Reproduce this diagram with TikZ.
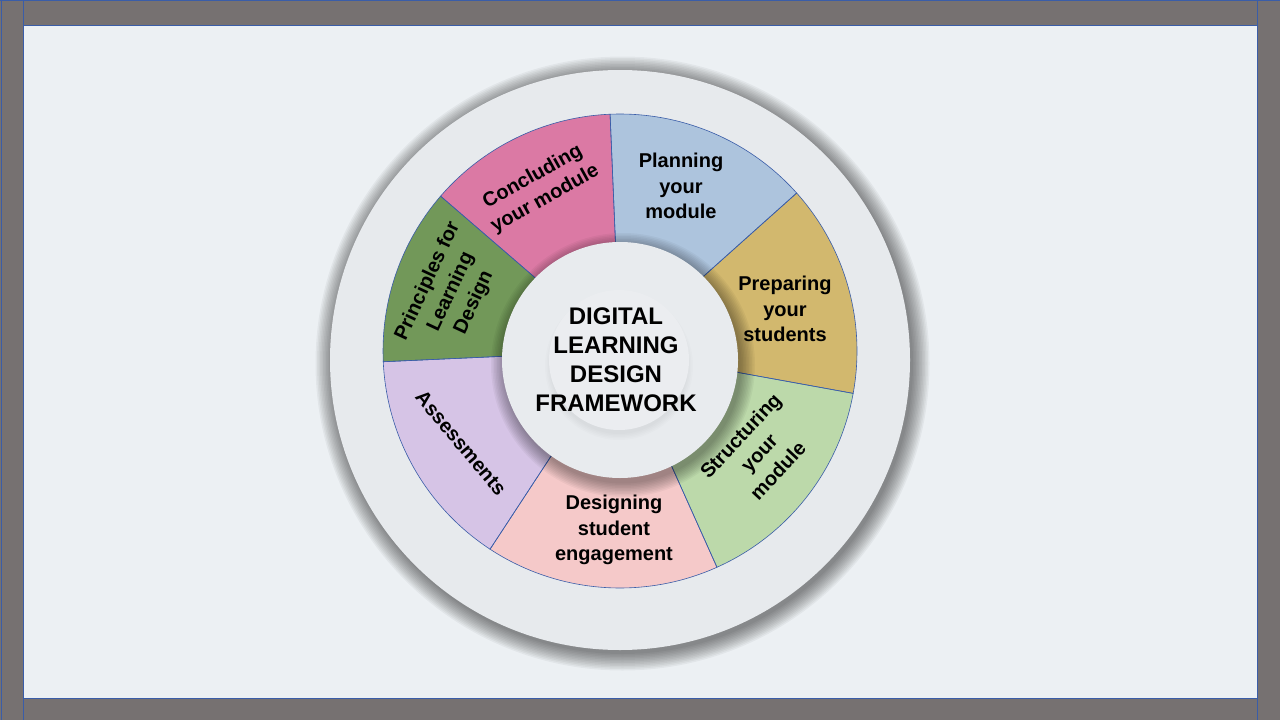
\documentclass[tikz,border=0pt]{standalone}
\usepackage{fontspec}
\setmainfont{Liberation Sans}
\definecolor{frame}{HTML}{767171}
\definecolor{panel}{HTML}{ECF0F3}
\definecolor{disc}{HTML}{E7EAED}
\definecolor{hub}{HTML}{E8EBEE}
\definecolor{edge}{HTML}{3A5DA8}
\definecolor{cplan}{HTML}{ADC4DD}
\definecolor{cprep}{HTML}{D2B86E}
\definecolor{cstruct}{HTML}{BCD9AA}
\definecolor{cdesign}{HTML}{F5C9C9}
\definecolor{cassess}{HTML}{D6C4E6}
\definecolor{cprinc}{HTML}{729859}
\definecolor{cconcl}{HTML}{DB79A4}
\tikzset{
  seglabel/.style={font=\bfseries\fontsize{20}{25.5}\selectfont, align=center, text=black, inner sep=0pt},
  hublabel/.style={font=\bfseries\fontsize{24}{29}\selectfont, align=center, text=black, inner sep=0pt},
  slice/.style={draw=edge, line width=0.6pt},
  rule/.style={draw=edge, line width=1pt}
}
\begin{document}
\begin{tikzpicture}[x=1pt,y=1pt]
\useasboundingbox (0,0) rectangle (1280,-720);
% frame and panel
\fill[frame] (0,0) rectangle (1280,-720);
\fill[panel] (24,-25) rectangle (1257,-698);
\draw[rule] (1,0) -- (1,-720);
\draw[rule] (0,-0.5) -- (1280,-0.5);
\draw[rule] (23.5,0) -- (23.5,-720);
\draw[rule] (1257,0) -- (1257,-720);
\draw[rule] (23.5,-25) -- (1257,-25);
\draw[rule] (23.5,-698) -- (1257,-698);
% big disc shadow
\foreach \r in {307,305.5,...,290}{
  \fill[black, opacity=0.042] (622.5,-363.5) circle[radius=\r];
}
\fill[disc] (620,-360) circle[radius=290];
% wheel
\coordinate (W) at (620,-351);
\fill[cplan]   (W) -- ++(92.4:237)   arc[start angle=92.4,  end angle=41.8,   radius=237] -- cycle;
\fill[cprep]   (W) -- ++(41.8:237)   arc[start angle=41.8,  end angle=-10.3,  radius=237] -- cycle;
\fill[cstruct] (W) -- ++(-10.3:237)  arc[start angle=-10.3, end angle=-65.85, radius=237] -- cycle;
\fill[cdesign] (W) -- ++(-65.85:237) arc[start angle=-65.85,end angle=-123.25,radius=237] -- cycle;
\fill[cassess] (W) -- ++(-123.25:237) arc[start angle=-123.25,end angle=-177.4,radius=237] -- cycle;
\fill[cprinc]  (W) -- ++(182.6:237)  arc[start angle=182.6, end angle=139.2,  radius=237] -- cycle;
\fill[cconcl]  (W) -- ++(139.2:237)  arc[start angle=139.2, end angle=92.4,   radius=237] -- cycle;
\foreach \a/\b in {92.4/41.8,41.8/-10.3,-10.3/-65.85,-65.85/-123.25,-123.25/-177.4,182.6/139.2,139.2/92.4}{
  \draw[slice] (W) -- ++(\a:237) arc[start angle=\a, end angle=\b, radius=237] -- cycle;
}
% hub shadow
\foreach \r in {132,130.5,...,118}{
  \fill[black, opacity=0.04] (623,-365) circle[radius=\r];
}
\fill[hub] (620,-360) circle[radius=118];
% inner button
\foreach \r in {74,72.5,...,68}{
  \fill[black, opacity=0.012] (619,-366) circle[radius=\r];
}
\fill[hub!88!white] (619,-360) circle[radius=70];
% labels
\node[seglabel] (plan) at (681,-186) {Planning\\your\\module};
\node[seglabel] (prep) at (785,-309) {Preparing\\your\\students};
\node[seglabel, rotate=47] (struct) at (759,-453) {Structuring\\your\\module};
\node[seglabel] (design) at (614,-530) {Designing\\student\\engagement};
\node[seglabel, rotate=-50] (assess) at (461,-443) {Assessments};
\node[seglabel, rotate=65] (princ) at (451,-292) {Principles for\\Learning\\Design};
\node[seglabel, rotate=29] (concl) at (539,-188) {Concluding\\your module};
\node[hublabel] (hubtext) at (616,-360) {DIGITAL\\LEARNING\\DESIGN\\FRAMEWORK};
\end{tikzpicture}
\end{document}
